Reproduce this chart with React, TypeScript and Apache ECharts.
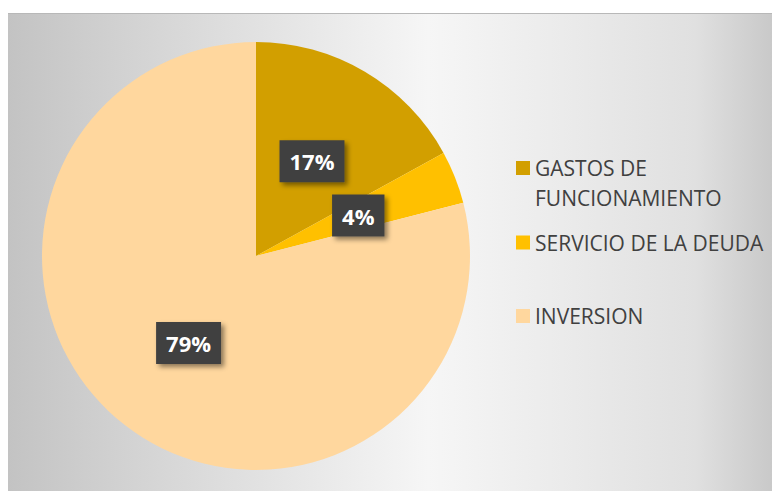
import React, { useEffect, useRef } from "react";
import * as echarts from "echarts";

const categories = ["GASTOS DE FUNCIONAMIENTO", "SERVICIO DE LA DEUDA", "INVERSION"];
const legendLabels = ["\nGASTOS DE\nFUNCIONAMIENTO", "SERVICIO DE LA DEUDA", "INVERSION"];
const values = [17, 4, 79];
const colors = ["#D29F00", "#FFC000", "#FFD79E"];

export default function App() {
  const ref = useRef<HTMLDivElement>(null);
  useEffect(() => {
    if (!ref.current) return;
    const chart = echarts.init(ref.current, null, { renderer: "svg" });
    const legendBase = {
      orient: "vertical" as const,
      left: 516,
      padding: 0,
      itemWidth: 14,
      itemHeight: 14,
      itemGap: 5,
      icon: "rect",
      selectedMode: false,
      formatter: (n: string) => legendLabels[categories.indexOf(n)],
    };
    const txt = { color: "#404040", fontFamily: "Open Sans", fontSize: 21 };
    chart.setOption({
      animation: false,
      graphic: [
        {
          type: "rect",
          z: -10,
          silent: true,
          shape: { x: 8, y: 13, width: 764, height: 478 },
          style: {
            fill: new echarts.graphic.LinearGradient(0, 0, 1, 0, [
              { offset: 0, color: "#c3c3c3" },
              { offset: 0.1, color: "#cdcdcd" },
              { offset: 0.55, color: "#f6f6f6" },
              { offset: 0.9, color: "#e0e0e0" },
              { offset: 1, color: "#c9c9c9" },
            ]),
          },
        },
        {
          type: "line",
          z: -9,
          silent: true,
          shape: { x1: 8, y1: 13.5, x2: 772, y2: 13.5 },
          style: { stroke: "#b8b8b8", lineWidth: 1 },
        },
      ],
      legend: [
        {
          ...legendBase,
          top: 123,
          data: [categories[0]],
          textStyle: { ...txt, lineHeight: 30 },
        },
        {
          ...legendBase,
          top: 232,
          data: [categories[1]],
          textStyle: { ...txt, lineHeight: 20 },
        },
        {
          ...legendBase,
          top: 305.5,
          data: [categories[2]],
          textStyle: { ...txt, lineHeight: 20 },
        },
      ],
      series: [
        {
          type: "pie",
          center: [256, 256],
          radius: 214,
          startAngle: 90,
          clockwise: true,
          data: categories.map((c, i) => ({ name: c, value: values[i], itemStyle: { color: colors[i] } })),
          label: {
            show: true,
            position: "inside",
            formatter: "{c}%",
            color: "#ffffff",
            fontFamily: "Open Sans",
            fontWeight: "bold",
            fontSize: 22,
            lineHeight: 26,
            backgroundColor: "#404040",
            padding: [8, 10],
            shadowColor: "rgba(0,0,0,0.45)",
            shadowBlur: 5,
            shadowOffsetX: 3,
            shadowOffsetY: 3,
          },
          labelLine: { show: false },
          emphasis: { disabled: true },
        },
      ],
    });
    return () => chart.dispose();
  }, []);
  return (
    <div
      ref={ref}
      style={{ position: "absolute", left: 0, top: 0, width: 772, height: 491 }}
    />
  );
}
